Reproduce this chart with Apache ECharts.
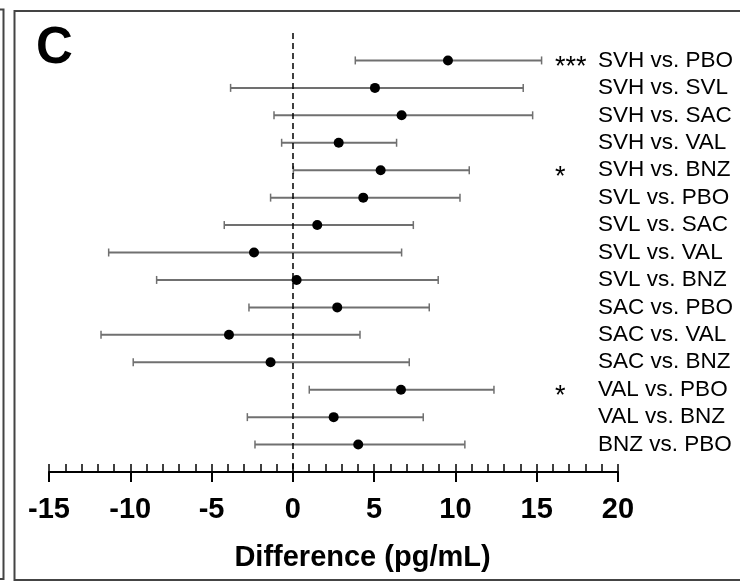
<!DOCTYPE html>
<html>
<head>
<meta charset="utf-8">
<script src="https://cdn.jsdelivr.net/npm/echarts@6/dist/echarts.min.js"></script>
<style>html,body{margin:0;padding:0;background:#fff;}#c{width:740px;height:584px;}</style>
</head>
<body>
<div id="c"></div>
<script>
var categories = ['SVH vs. PBO','SVH vs. SVL','SVH vs. SAC','SVH vs. VAL','SVH vs. BNZ','SVL vs. PBO','SVL vs. SAC','SVL vs. VAL','SVL vs. BNZ','SAC vs. PBO','SAC vs. VAL','SAC vs. BNZ','VAL vs. PBO','VAL vs. BNZ','BNZ vs. PBO'];
var diff  = [9.54, 5.05, 6.69, 2.82, 5.40, 4.33, 1.50, -2.39, 0.23, 2.73, -3.93, -1.37, 6.65, 2.51, 4.02];
var lower = [3.84, -3.83, -1.16, -0.69, 0.03, -1.37, -4.22, -11.33, -8.38, -2.70, -11.80, -9.82, 1.01, -2.80, -2.33];
var upper = [15.30, 14.17, 14.75, 6.38, 10.85, 10.28, 7.41, 6.69, 8.94, 8.39, 4.13, 7.16, 12.37, 8.02, 10.58];
var stars = ['***','','','','*','','','','','','','','*','',''];
var xTicks = [-15,-10,-5,0,5,10,15,20];

var FONT = '"Liberation Sans", Arial, sans-serif';
var chart = echarts.init(document.getElementById('c'), null, {renderer:'canvas'});

var pointData = diff.map(function(v,i){ return [v, i+1]; });
var barData = lower.map(function(v,i){ return [v, upper[i], i+1]; });

function rowLabel(v){ var i = Math.round(v); return (i>=1 && i<=categories.length) ? categories[i-1] : ''; }
function starLabel(v){ var i = Math.round(v); var s = (i>=1 && i<=stars.length) ? stars[i-1] : ''; return s ? '{s|' + s + '}' : ''; }

chart.setOption({
  animation:false,
  backgroundColor:'#fff',
  grid:{left:49, right:122, top:33, height:439, containLabel:false},
  xAxis:[
    {type:'value', min:xTicks[0], max:xTicks[xTicks.length-1], interval:1, position:'bottom',
     axisLine:{show:true, onZero:false, lineStyle:{color:'#000', width:2}},
     axisTick:{show:true, inside:true, length:8, lineStyle:{color:'#000', width:1.5}},
     axisLabel:{show:false}, splitLine:{show:false}},
    {type:'value', min:xTicks[0], max:xTicks[xTicks.length-1], interval:5, position:'bottom',
     axisLine:{show:false, onZero:false},
     axisTick:{show:true, inside:false, length:10, lineStyle:{color:'#000', width:2}},
     axisLabel:{show:true, margin:23, color:'#000', fontFamily:FONT, fontWeight:'bold', fontSize:29},
     splitLine:{show:false}}
  ],
  yAxis:[
    {type:'value', min:0, max:16, interval:1, inverse:true, position:'right',
     axisLine:{show:false}, axisTick:{show:false}, splitLine:{show:false},
     axisLabel:{show:true, margin:-20, align:'left', verticalAlign:'middle', color:'#000', fontFamily:FONT, fontSize:22.5, formatter:rowLabel}},
    {type:'value', min:0, max:16, interval:1, inverse:true, position:'right',
     axisLine:{show:false}, axisTick:{show:false}, splitLine:{show:false},
     axisLabel:{show:true, margin:-63, align:'left', verticalAlign:'middle', color:'#000', fontFamily:FONT, fontSize:27, formatter:starLabel,
       rich:{s:{fontFamily:FONT, fontSize:27, color:'#000', padding:[14,0,0,0]}}}}
  ],
  series:[
    {type:'custom', xAxisIndex:0, yAxisIndex:0, data:barData,
     renderItem:function(params, api){
       var y = api.value(2);
       var a = api.coord([api.value(0), y]);
       var b = api.coord([api.value(1), y]);
       var h = 4;
       return {type:'group', children:[
         {type:'line', shape:{x1:a[0], y1:a[1], x2:b[0], y2:b[1]}, style:{stroke:'#707070', lineWidth:2}},
         {type:'line', shape:{x1:a[0], y1:a[1]-h, x2:a[0], y2:a[1]+h}, style:{stroke:'#707070', lineWidth:1.5}},
         {type:'line', shape:{x1:b[0], y1:b[1]-h, x2:b[0], y2:b[1]+h}, style:{stroke:'#707070', lineWidth:1.5}}
       ]};
     }, z:2},
    {type:'scatter', xAxisIndex:0, yAxisIndex:0, data:pointData, symbol:'circle', symbolSize:10,
     itemStyle:{color:'#000', opacity:1}, z:3,
     markLine:{silent:true, symbol:['none','none'], label:{show:false},
       lineStyle:{color:'#000', type:[6,4], width:1.5, opacity:1},
       data:[{xAxis:0}]}}
  ],
  graphic:[
    {type:'rect', shape:{x:14.5, y:11, width:760, height:569}, style:{fill:'none', stroke:'#444', lineWidth:2}, silent:true},
    {type:'rect', shape:{x:-40, y:9.5, width:43.5, height:569.5}, style:{fill:'none', stroke:'#444', lineWidth:2}, silent:true},
    {type:'text', left:36, top:23, style:{text:'C', font:'bold 51px '+FONT, fill:'#000'}},
    {type:'text', x:362.5, y:558, style:{text:'Difference (pg/mL)', font:'bold 29px '+FONT, fill:'#000', align:'center', verticalAlign:'middle'}}
  ]
});
</script>
</body>
</html>
